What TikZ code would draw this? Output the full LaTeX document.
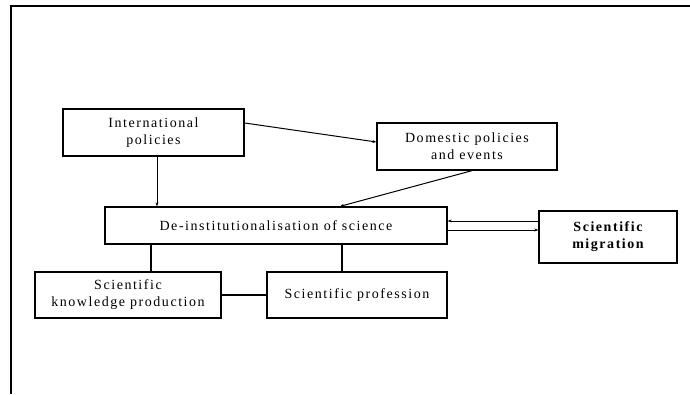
\documentclass[tikz,border=0pt]{standalone}
\usepackage{fontspec}
\setmainfont[LetterSpace=11]{Liberation Serif}
\usetikzlibrary{arrows.meta}
\begin{document}
\begin{tikzpicture}[x=1pt,y=-1pt,
  box/.style={draw,line width=1.3pt,rectangle,inner sep=0pt,align=center,
    font=\fontsize{14}{17}\selectfont},
  arr/.style={line width=1pt,-{Stealth[length=4pt,width=3pt]}},
  ln/.style={line width=1.2pt}]
\useasboundingbox (0,0) rectangle (690,394);
\draw[line width=1.4pt] (11,394) -- (11,6) -- (690,6);
\node[box,minimum width=181pt,minimum height=47pt] (intl) at (153.5,132.5) {International\\policies};
\node[box,minimum width=180pt,minimum height=47pt] (dom) at (467,146.5) {Domestic policies\\and events};
\node[box,minimum width=342pt,minimum height=37pt] (dein) at (276,225.5) {De-institutionalisation of science};
\node[box,minimum width=138pt,minimum height=52pt,font=\fontsize{14}{17}\selectfont\bfseries] (mig) at (608,237) {Scientific\\migration};
\node[box,minimum width=186pt,minimum height=46pt] (know) at (128,295) {Scientific\\knowledge production};
\node[box,minimum width=180pt,minimum height=46pt] (prof) at (357,295) {Scientific profession};
\draw[arr] ([xshift=3.5pt]intl.south) -- ([xshift=3.5pt]intl.south |- dein.north);
\draw[arr] ([yshift=9.5pt]intl.east) -- ([yshift=4.5pt]dom.west);
\draw[arr] ([xshift=5pt]dom.south) -- ([xshift=64pt]dein.north);
\coordinate (u) at ([yshift=4.5pt]dein.east);
\coordinate (l) at ([yshift=-4.5pt]dein.east);
\draw[arr] (u -| mig.west) -- (u);
\draw[arr] (l) -- (l -| mig.west);
\draw[ln] ([xshift=-125pt]dein.south) -- ([xshift=-125pt]dein.south |- know.north);
\draw[ln] ([xshift=66pt]dein.south) -- ([xshift=66pt]dein.south |- prof.north);
\draw[ln] (know.east) -- (prof.west);
\end{tikzpicture}
\end{document}
